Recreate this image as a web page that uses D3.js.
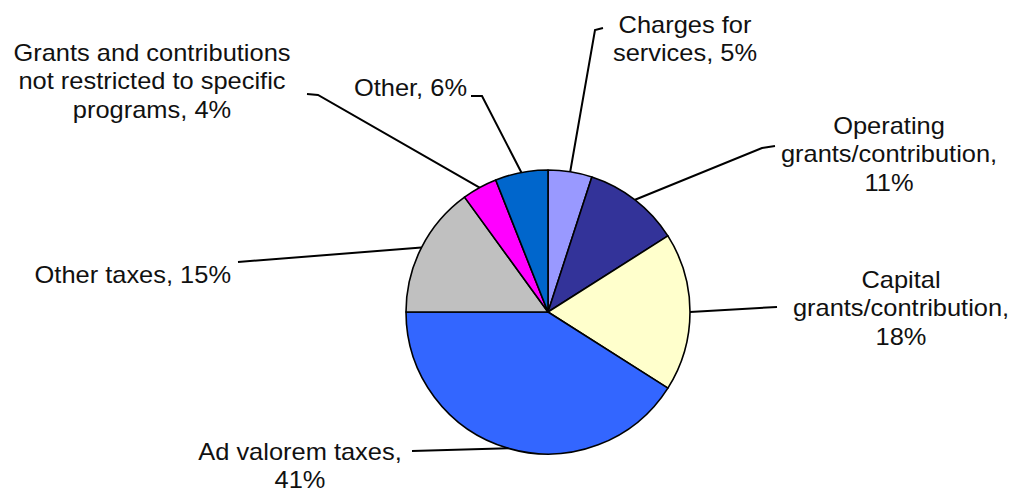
<!DOCTYPE html>
<html>
<head>
<meta charset="utf-8">
<script src="https://cdn.jsdelivr.net/npm/d3@7"></script>
<style>
  html, body { margin: 0; padding: 0; background: #fff; }
  svg { display: block; }
  .label { font-family: "Liberation Sans", Arial, sans-serif; font-size: 24px; fill: #111; }
</style>
</head>
<body>
<svg id="chart" width="1013" height="488"></svg>
<script>
'use strict';

// data, clockwise from 12 o'clock
const categories = [
  'Charges for services',
  'Operating grants/contribution',
  'Capital grants/contribution',
  'Ad valorem taxes',
  'Other taxes',
  'Grants and contributions not restricted to specific programs',
  'Other'
];
const values = [5, 11, 18, 41, 15, 4, 6];
const labelLines = [
  ['Charges for', 'services, 5%'],
  ['Operating', 'grants/contribution,', '11%'],
  ['Capital', 'grants/contribution,', '18%'],
  ['Ad valorem taxes,', '41%'],
  ['Other taxes, 15%'],
  ['Grants and contributions', 'not restricted to specific', 'programs, 4%'],
  ['Other, 6%']
];
const colors = ['#9999FF', '#333399', '#FFFFCC', '#3366FF', '#C0C0C0', '#FF00FF', '#0066CC'];

// label placement (layout only)
const LABELS = [
  {x: 685, y: 33, anchor: 'middle', leader: [[595, 30], [603, 28]]},
  {x: 889, y: 134, anchor: 'middle', leader: [[762, 148], [775, 146]]},
  {x: 901, y: 288, anchor: 'middle', leader: [[777, 307]]},
  {x: 300, y: 460, anchor: 'middle', leader: [[412, 451]]},
  {x: 231, y: 283, anchor: 'end', leader: [[238, 262]]},
  {x: 152, y: 61, anchor: 'middle', leader: [[318, 95], [307, 94]]},
  {x: 467, y: 96, anchor: 'end', leader: [[482, 96], [471, 96]]}
];
const LINE_HEIGHT = 28.5;
const CX = 548, CY = 312, R = 142;

const svg = d3.select('#chart');
const g = svg.append('g').attr('transform', 'translate(' + CX + ',' + CY + ')');

const pie = d3.pie().sort(null).value(d => d);
const arcs = pie(values);
const arc = d3.arc().innerRadius(0).outerRadius(R);
const edge = d3.arc().innerRadius(R).outerRadius(R);

g.selectAll('path.slice')
  .data(arcs)
  .enter().append('path')
  .attr('class', 'slice')
  .attr('d', arc)
  .attr('fill', (d, i) => colors[i])
  .attr('stroke', '#000')
  .attr('stroke-width', 1.6)
  .attr('stroke-linejoin', 'round');

// leader lines
const line = d3.line();
svg.selectAll('path.leader')
  .data(arcs)
  .enter().append('path')
  .attr('class', 'leader')
  .attr('fill', 'none')
  .attr('stroke', '#000')
  .attr('stroke-width', 2)
  .attr('d', (d, i) => {
    const c = edge.centroid(d);
    return line([[CX + c[0], CY + c[1]]].concat(LABELS[i].leader));
  });

// labels
labelLines.forEach((lines, i) => {
  const L = LABELS[i];
  const t = svg.append('text')
    .attr('class', 'label')
    .attr('text-anchor', L.anchor)
    .attr('transform', 'translate(' + L.x + ',' + L.y + ') scale(1.06,1)');
  lines.forEach((s, j) => {
    t.append('tspan').attr('x', 0).attr('y', j * LINE_HEIGHT).text(s);
  });
});
</script>
</body>
</html>
